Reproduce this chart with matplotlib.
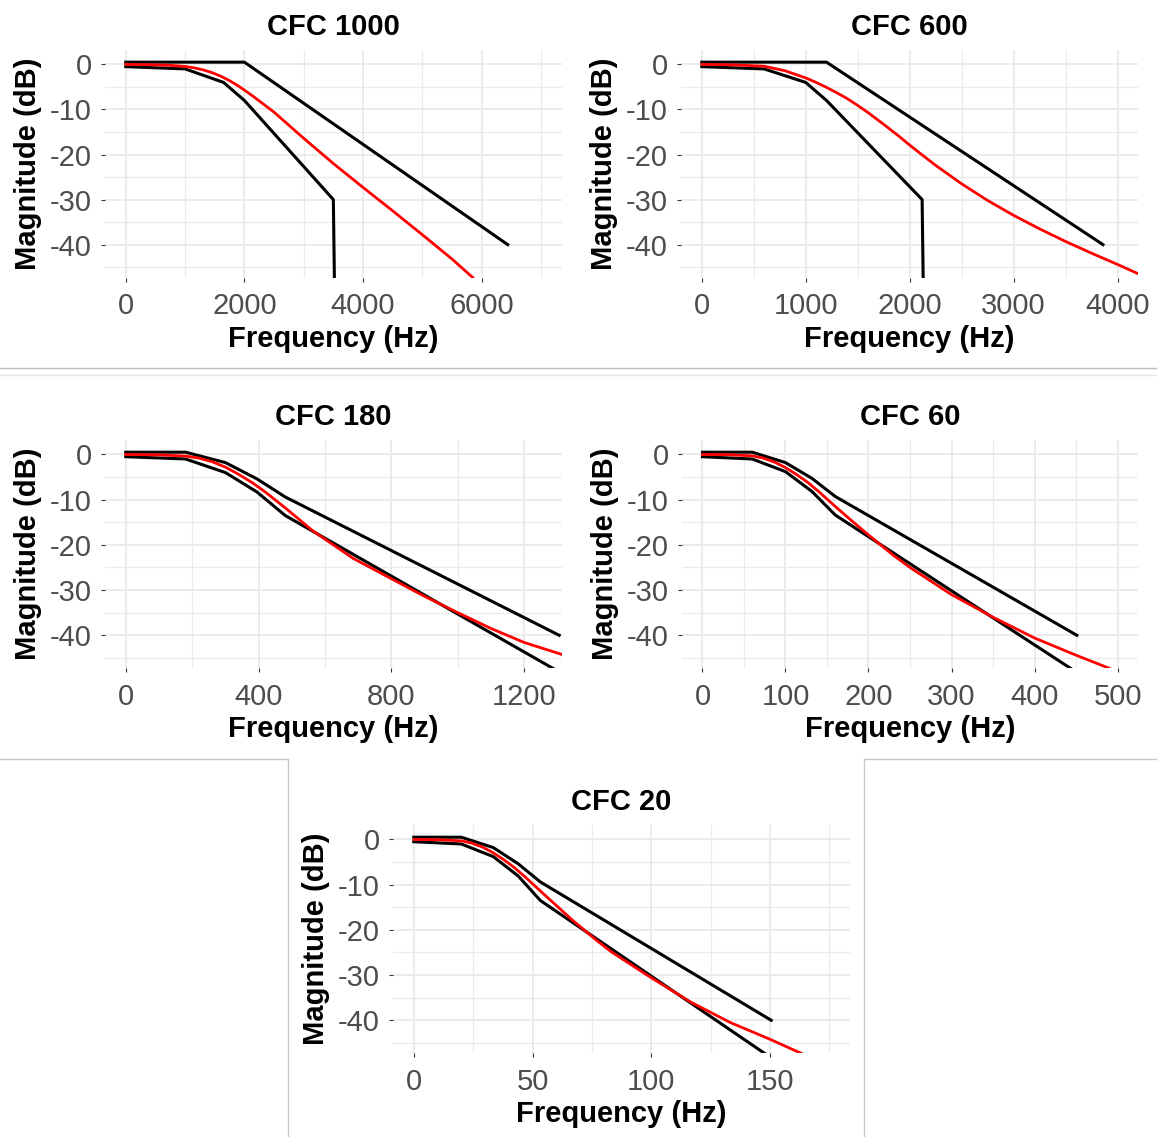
import matplotlib
matplotlib.use("Agg")
import matplotlib.pyplot as plt
from matplotlib.lines import Line2D
from matplotlib.ticker import MultipleLocator

plt.rcParams['font.family'] = ['Liberation Sans', 'DejaVu Sans']
plt.rcParams['axes.unicode_minus'] = False

W, H = 1157, 1137

# corridor limits and filter response (Hz, dB)
cfc1000_up_f = [0, 2000, 6440]
cfc1000_up_db = [0.5, 0.5, -40]
cfc1000_lo_f = [0, 1000, 1650, 2000, 3500, 3570]
cfc1000_lo_db = [-0.5, -1, -4, -8, -30, -100]
cfc1000_red_f = [0, 500, 750, 1000, 1150, 1300, 1450, 1600, 1750, 1900, 2000, 2150, 2300, 2500,
                 2750, 3000, 3500, 4000, 4500, 5000, 5500, 5850]
cfc1000_red_db = [0, -0.1, -0.2, -0.45, -0.75, -1.2, -1.8, -2.6, -3.6, -4.8, -5.7, -7.1, -8.6, -10.6,
                  -13.5, -16.4, -22.0, -27.3, -32.5, -37.8, -43.2, -47.3]

cfc600_up_f = [0, 1200, 3860]
cfc600_up_db = [0.5, 0.5, -40]
cfc600_lo_f = [0, 600, 1000, 1200, 2120, 2160]
cfc600_lo_db = [-0.5, -1, -4, -8, -30, -100]
cfc600_red_f = [0, 300, 600, 800, 1000, 1100, 1200, 1300, 1400, 1500, 1600, 1750, 1900, 2000, 2115,
                2250, 2500, 2750, 3000, 3250, 3500, 3750, 4000, 4250]
cfc600_red_db = [0, -0.1, -0.4, -1.4, -3.0, -4.0, -5.1, -6.3, -7.6, -9.1, -10.7, -13.3, -16.0, -17.9, -20.0,
                 -22.4, -26.5, -30.2, -33.5, -36.5, -39.3, -41.9, -44.4, -47.0]

cfc180_up_f = [0, 180, 300, 395, 480, 1305]
cfc180_up_db = [0.5, 0.5, -1.8, -5.4, -9.4, -40]
cfc180_lo_f = [0, 180, 300, 395, 480, 1300]
cfc180_lo_db = [-0.5, -1, -4, -8.3, -13.5, -47.9]
cfc180_red_f = [0, 100, 180, 220, 260, 300, 340, 380, 420, 480, 565, 685, 800, 900, 1000, 1100, 1200, 1320]
cfc180_red_db = [0, -0.1, -0.35, -0.8, -1.6, -2.8, -4.4, -6.2, -8.3, -11.8, -17.0, -23.0, -27.5, -31.4,
                 -35.0, -38.5, -41.6, -44.4]

cfc60_up_f = [0, 60, 100, 132, 160, 451]
cfc60_up_db = [0.5, 0.5, -1.8, -5.3, -9.3, -40]
cfc60_lo_f = [0, 60, 100, 132, 160, 445]
cfc60_lo_db = [-0.5, -1, -3.8, -8.2, -13.4, -47.5]
cfc60_red_f = [0, 30, 60, 73, 87, 100, 113, 127, 140, 160, 180, 200, 230, 250, 300, 350, 400, 450, 490]
cfc60_red_db = [0, -0.05, -0.3, -0.8, -1.7, -2.9, -4.4, -6.2, -8.2, -11.5, -14.7, -17.8, -22.3, -25.0,
                -31.0, -36.0, -40.6, -44.4, -47.3]

cfc20_up_f = [0, 20, 33.5, 44, 53.3, 150.5]
cfc20_up_db = [0.5, 0.5, -1.8, -5.4, -9.4, -40]
cfc20_lo_f = [0, 20, 33.5, 44, 53.3, 148.5]
cfc20_lo_db = [-0.5, -1, -3.8, -8.1, -13.5, -47.6]
cfc20_red_f = [0, 10, 20, 24.3, 29, 33.3, 37.7, 42.3, 46.7, 53.3, 60, 66.7, 76.7, 83.3, 100, 116.7,
               133.3, 150, 163.5]
cfc20_red_db = [0, -0.05, -0.3, -0.8, -1.7, -2.9, -4.4, -6.2, -8.2, -11.4, -14.6, -17.8, -22.2, -24.9,
                -30.6, -36.0, -40.5, -44.2, -47.4]

titles = ["CFC 1000", "CFC 600", "CFC 180", "CFC 60", "CFC 20"]
x_max = [7000, 4000, 1250, 500, 175]
x_major = [[0, 2000, 4000, 6000], [0, 1000, 2000, 3000, 4000], [0, 400, 800, 1200],
           [0, 100, 200, 300, 400, 500], [0, 50, 100, 150]]
x_minor = [1000, 500, 200, 50, 25]
y_ticks = [0, -10, -20, -30, -40]
y_range = (-47.3, 3.2)

upper = [(cfc1000_up_f, cfc1000_up_db), (cfc600_up_f, cfc600_up_db), (cfc180_up_f, cfc180_up_db),
         (cfc60_up_f, cfc60_up_db), (cfc20_up_f, cfc20_up_db)]
lower = [(cfc1000_lo_f, cfc1000_lo_db), (cfc600_lo_f, cfc600_lo_db), (cfc180_lo_f, cfc180_lo_db),
         (cfc60_lo_f, cfc60_lo_db), (cfc20_lo_f, cfc20_lo_db)]
response = [(cfc1000_red_f, cfc1000_red_db), (cfc600_red_f, cfc600_red_db), (cfc180_red_f, cfc180_red_db),
            (cfc60_red_f, cfc60_red_db), (cfc20_red_f, cfc20_red_db)]

# panel boxes in pixels: left, top, right, bottom
boxes = [(105, 50, 561.7, 277.5), (681, 50, 1138.3, 277.5),
         (105, 440, 561.7, 668.3), (681.7, 440, 1138.3, 668.3),
         (393, 825, 850.2, 1053.3)]

fig = plt.figure(figsize=(W / 100, H / 100), dpi=100)

for i in range(5):
    l, t, r, b = boxes[i]
    ax = fig.add_axes([l / W, 1 - b / H, (r - l) / W, (b - t) / H])
    pad = x_max[i] * 0.05
    ax.set_xlim(-pad, x_max[i] + pad)
    ax.set_ylim(*y_range)
    ax.set_xticks(x_major[i], labels=[str(v) for v in x_major[i]])
    ax.set_yticks(y_ticks, labels=[str(v) for v in y_ticks])
    ax.xaxis.set_minor_locator(MultipleLocator(x_minor[i]))
    ax.yaxis.set_minor_locator(MultipleLocator(5))
    for s in ax.spines.values():
        s.set_visible(False)
    ax.set_axisbelow(True)
    ax.grid(which='major', color='#EBEBEB', linewidth=1.4)
    ax.grid(which='minor', color='#EBEBEB', linewidth=0.9)
    ax.tick_params(which='minor', length=0)
    ax.tick_params(axis='x', which='major', length=3, width=0.8, color='#333333',
                   labelsize=21, labelcolor='#4D4D4D', pad=7.5)
    ax.tick_params(axis='y', which='major', length=3, width=0.8, color='#333333',
                   labelsize=21, labelcolor='#4D4D4D', pad=6.5)

    ax.plot(*upper[i], color='black', linewidth=2.2, solid_joinstyle='round')
    ax.plot(*lower[i], color='black', linewidth=2.2, solid_joinstyle='round')
    ax.plot(*response[i], color='#FF0000', linewidth=2.0, solid_joinstyle='round')

    hpx = b - t
    wpx = r - l
    ax.text(0.5, 1 + 15 / hpx, titles[i], transform=ax.transAxes, ha='center', va='baseline',
            fontsize=21, fontweight='bold')
    ax.text(0.5, -69 / hpx, "Frequency (Hz)", transform=ax.transAxes, ha='center', va='baseline',
            fontsize=21, fontweight='bold')
    ax.text(-77 / wpx, 0.5, "Magnitude (dB)", transform=ax.transAxes, ha='center', va='center',
            rotation=90, fontsize=21, fontweight='bold')

# separators between the stitched images
def sep(x0, y0, x1, y1, c):
    fig.add_artist(Line2D([x0 / W, x1 / W], [1 - y0 / H, 1 - y1 / H], color=c, linewidth=1.0,
                          transform=fig.transFigure))

sep(0, 368.3, W, 368.3, '#BDBDBD')
sep(0, 374.5, W, 374.5, '#E3E3E3')
sep(0, 759.3, 288.3, 759.3, '#C8C8C8')
sep(288.3, 759.3, 288.3, H, '#C8C8C8')
sep(864.3, 759.3, W, 759.3, '#C8C8C8')
sep(864.3, 759.3, 864.3, H, '#C8C8C8')

fig.savefig("out.png", dpi=100)
